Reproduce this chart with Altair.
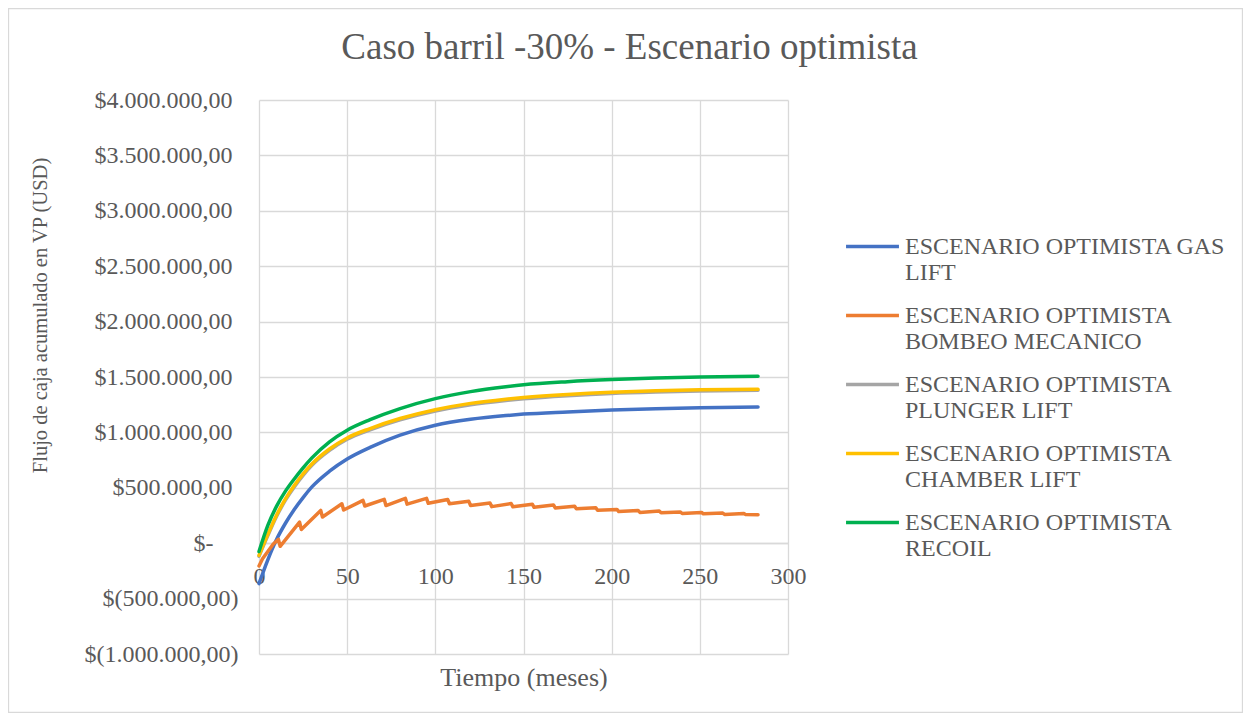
import altair as alt
import pandas as pd

# ---------------- data ----------------
series_names = [
    "ESCENARIO OPTIMISTA GAS LIFT",
    "ESCENARIO OPTIMISTA BOMBEO MECANICO",
    "ESCENARIO OPTIMISTA PLUNGER LIFT",
    "ESCENARIO OPTIMISTA CHAMBER LIFT",
    "ESCENARIO OPTIMISTA RECOIL",
]
series_colors = ["#4472C4", "#ED7D31", "#A5A5A5", "#FFC000", "#00B050"]

months_smooth = [0, 5, 10, 15, 20, 25, 30, 40, 50, 63, 80, 100, 120, 140, 150, 175, 200, 225, 250, 283]
gas_lift = [-365000, -150000, 35000, 180000, 304000, 412000, 508000, 650000, 760000, 865000,
            975000, 1065000, 1118000, 1152000, 1165000, 1185000, 1202000, 1214000, 1222000, 1230000]
plunger_lift = [-118000, 68000, 243000, 388000, 508000, 613000, 703000, 838000, 938000, 1023000,
                1113000, 1193000, 1250000, 1288000, 1303000, 1331000, 1352000, 1365000, 1374000, 1380000]
chamber_lift = [-110000, 80000, 255000, 400000, 520000, 625000, 715000, 850000, 950000, 1035000,
                1125000, 1205000, 1262000, 1300000, 1315000, 1343000, 1363000, 1376000, 1384000, 1390000]
recoil = [-75000, 160000, 335000, 470000, 580000, 680000, 770000, 915000, 1020000, 1115000,
          1215000, 1305000, 1368000, 1412000, 1430000, 1458000, 1477000, 1490000, 1499000, 1507000]

months_bombeo = [0, 2, 5, 8, 11, 12, 23, 24, 35, 36, 47, 48, 59, 60, 71, 72, 83, 84, 95, 96,
                 107, 108, 119, 120, 131, 132, 143, 144, 155, 156, 167, 168, 179, 180, 191, 192,
                 203, 204, 215, 216, 227, 228, 239, 240, 251, 252, 263, 264, 275, 276, 283]
bombeo_mecanico = [-205000, -140000, -75000, -10000, 35000, -28000, 190000, 124000, 296000, 236000,
                   356000, 300000, 386000, 336000, 396000, 340000, 405000, 352000, 405000, 360000,
                   395000, 356000, 378000, 340000, 362000, 330000, 358000, 328000, 352000, 324000,
                   345000, 318000, 334000, 310000, 320000, 298000, 305000, 286000, 295000, 278000,
                   290000, 275000, 282000, 268000, 278000, 265000, 272000, 260000, 268000, 258000,
                   256000]

x_ticks = [0, 50, 100, 150, 200, 250, 300]
y_ticks = [-1000000, -500000, 0, 500000, 1000000, 1500000, 2000000, 2500000, 3000000, 3500000, 4000000]

# ---------------- table ----------------
rows = []
for s, vals in [(series_names[0], gas_lift), (series_names[2], plunger_lift),
                (series_names[3], chamber_lift), (series_names[4], recoil)]:
    for m, v in zip(months_smooth, vals):
        rows.append({"serie": s, "mes": m, "valor": v})
for m, v in zip(months_bombeo, bombeo_mecanico):
    rows.append({"serie": series_names[1], "mes": m, "valor": v})
df = pd.DataFrame(rows)

FONT = "Liberation Serif"
TXT = "#595959"
GRID = "#D9D9D9"


def fmt(v):
    s = f"format({v}, ',.2f')"
    s = f"replace({s}, '.', ';')"
    s = f"replace({s}, ',', '.')"
    s = f"replace({s}, ',', '.')"
    s = f"replace({s}, ';', ',')"
    return s


y_label_expr = (
    "datum.value == 0 ? '$-' : "
    f"(datum.value < 0 ? '$(' + {fmt('-datum.value')} + ')' : '$' + {fmt('datum.value')})"
)

legend_expr = (
    "datum.label == 'ESCENARIO OPTIMISTA GAS LIFT' ? ['ESCENARIO OPTIMISTA GAS', 'LIFT'] : "
    "['ESCENARIO OPTIMISTA', slice(datum.label, 20)]"
)

x_enc = alt.X(
    "mes:Q",
    scale=alt.Scale(domain=[0, 300], nice=False),
    axis=alt.Axis(
        values=x_ticks, offset=-111, grid=True, gridColor=GRID, gridWidth=1.3,
        domainColor=GRID, domainWidth=1.3, ticks=False, labelFlush=False,
        labelPadding=21, labelFont=FONT, labelFontSize=24, labelColor=TXT,
        title="Tiempo (meses)", titleFont=FONT, titleFontSize=26, titleFontWeight="normal",
        titleColor=TXT, titleY=134, titleBaseline="middle",
    ),
)
y_enc = alt.Y(
    "valor:Q",
    scale=alt.Scale(domain=[-1000000, 4000000], nice=False, zero=False),
    axis=alt.Axis(
        values=y_ticks, grid=True, gridColor=GRID, gridWidth=1.3, domain=False, ticks=False,
        labelExpr=y_label_expr,
        labelPadding={
            "condition": [
                {"test": "datum.value < 0", "value": 21},
                {"test": "datum.value == 0", "value": 46},
            ],
            "value": 27,
        },
        labelFont=FONT, labelFontSize=24, labelColor=TXT,
        title="Flujo de caja acumulado en VP (USD)", titleFont=FONT, titleFontSize=20.5,
        titleFontWeight="normal", titleColor=TXT, titleX=-219, titleY=215,
        titleBaseline="middle", titleAlign="center",
    ),
)
color_enc = alt.Color(
    "serie:N",
    scale=alt.Scale(domain=series_names, range=series_colors),
    legend=alt.Legend(
        orient="none", legendX=585, legendY=118, title=None, symbolType="stroke",
        symbolSize=2800, symbolStrokeWidth=3.5, labelFont=FONT, labelFontSize=24,
        labelColor=TXT, labelExpr=legend_expr, labelLimit=500, rowPadding=2, labelOffset=4,
    ),
)

# light frame around the whole chart area (decoration)
frame = (
    alt.Chart(alt.Data(values=[{}]))
    .mark_rect(fill=None, stroke=GRID, strokeWidth=1.3)
    .encode(x=alt.value(-250.5), x2=alt.value(983.5), y=alt.value(-91.5), y2=alt.value(612.5))
)

base = alt.Chart(df)
layers = [frame]
for s in series_names:
    interp = "linear" if s == series_names[1] else "monotone"
    layers.append(
        base.transform_filter(alt.datum.serie == s)
        .mark_line(strokeWidth=3.5, strokeCap="round", strokeJoin="round", interpolate=interp)
        .encode(x=x_enc, y=y_enc, color=color_enc)
    )

chart = (
    alt.layer(*layers)
    .properties(
        width=529, height=554,
        autosize=alt.AutoSizeParams(type="none"),
        padding={"left": 251, "top": 92, "right": 455, "bottom": 59},
        title=alt.TitleParams(
            "Caso barril -30% - Escenario optimista", font=FONT, fontSize=37,
            fontWeight="normal", color=TXT, anchor="middle", dx=106, dy=80, offset=21,
        ),
    )
    .configure_view(stroke=None)
)

chart.save("out.html", embed_options={"renderer": "svg", "actions": False})
